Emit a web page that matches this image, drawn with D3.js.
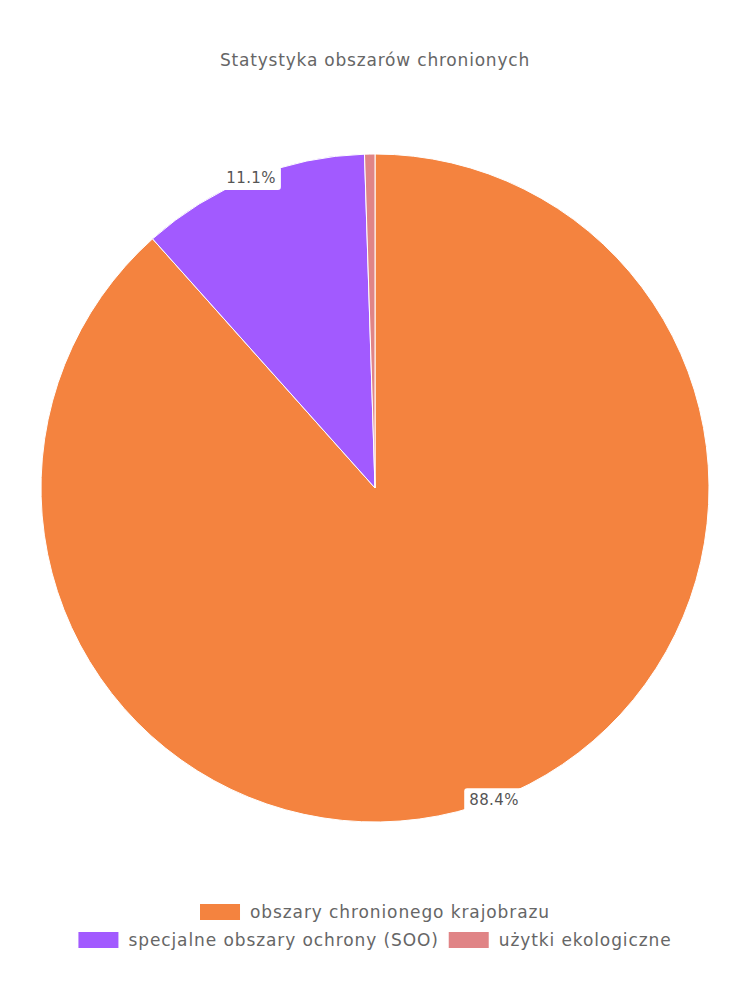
<!DOCTYPE html>
<html>
<head>
<meta charset="utf-8">
<script src="https://cdn.jsdelivr.net/npm/d3@7"></script>
<style>
  body { margin: 0; background: #fff; }
  text { font-family: "DejaVu Sans", "Noto Sans", sans-serif; }
</style>
</head>
<body>
<div id="chart"></div>
<script>
const title = 'Statystyka obszarów chronionych';
const categories = ['obszary chronionego krajobrazu', 'specjalne obszary ochrony (SOO)', 'użytki ekologiczne'];
const values = [88.4, 11.1, 0.5];
const colors = ['#f4833f', '#a25aff', '#e08486'];
const labelTexts = ['88.4%', '11.1%', ''];

const width = 750, height = 1000;
const cx = 375, cy = 488, radius = 334;
const textColor = '#666';

const svg = d3.select('#chart')
    .append('svg')
    .attr('width', width)
    .attr('height', height);

svg.append('text')
    .attr('x', width / 2)
    .attr('y', 66)
    .attr('text-anchor', 'middle')
    .attr('fill', textColor)
    .style('font-size', '17px')
    .style('letter-spacing', '0.8px')
    .text(title);

const data = categories.map((c, i) => ({name: c, value: values[i], color: colors[i], label: labelTexts[i]}));

const pie = d3.pie().sort(null).value(d => d.value);
const arc = d3.arc().innerRadius(0).outerRadius(radius);
const arcs = pie(data);

const g = svg.append('g').attr('transform', 'translate(' + cx + ',' + cy + ')');

g.selectAll('.slice')
    .data(arcs)
    .join('path')
    .attr('class', 'slice')
    .attr('d', arc)
    .attr('fill', d => d.data.color)
    .attr('stroke', '#fff')
    .attr('stroke-width', 1);

// percentage labels sit on the outer edge
const labelArc = d3.arc().innerRadius(radius).outerRadius(radius);
const labels = g.selectAll('.lbl')
    .data(arcs.filter(d => d.data.label))
    .join('g')
    .attr('class', 'lbl')
    .attr('transform', d => 'translate(' + labelArc.centroid(d) + ')');

labels.append('rect')
    .attr('fill', '#fff')
    .attr('rx', 3);

labels.append('text')
    .attr('text-anchor', 'middle')
    .attr('dy', '0.35em')
    .attr('fill', '#555')
    .style('font-size', '15px')
    .style('letter-spacing', '0.4px')
    .text(d => d.data.label);

labels.each(function () {
    const b = d3.select(this).select('text').node().getBBox();
    d3.select(this).select('rect')
        .attr('x', b.x - 5)
        .attr('y', b.y - 3)
        .attr('width', b.width + 10)
        .attr('height', b.height + 6);
});

// legend
const legendRows = [[0], [1, 2]];
const rowY = [912, 940];
const boxW = 40, boxH = 16, gap = 10, itemGap = 10;

legendRows.forEach((row, r) => {
    const rowG = svg.append('g');
    let x = 0;
    row.forEach(i => {
        const item = rowG.append('g').attr('transform', 'translate(' + x + ',0)');
        item.append('rect')
            .attr('x', 0)
            .attr('y', rowY[r] - boxH / 2)
            .attr('width', boxW)
            .attr('height', boxH)
            .attr('fill', colors[i]);
        const t = item.append('text')
            .attr('x', boxW + gap)
            .attr('y', rowY[r])
            .attr('dy', '0.35em')
            .attr('fill', textColor)
            .style('font-size', '17px')
            .style('letter-spacing', '0.9px')
            .text(categories[i]);
        x += boxW + gap + t.node().getComputedTextLength() + itemGap;
    });
    const total = x - itemGap;
    rowG.attr('transform', 'translate(' + (width - total) / 2 + ',0)');
});
</script>
</body>
</html>
